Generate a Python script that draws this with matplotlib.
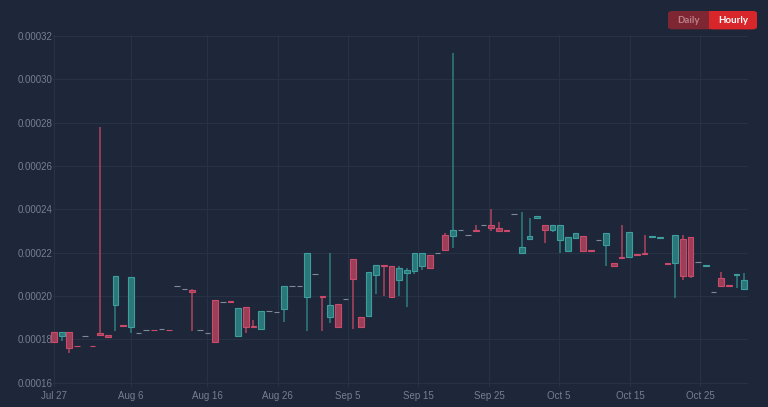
import numpy as np
import matplotlib
matplotlib.use('Agg')
import matplotlib.pyplot as plt
from matplotlib.patches import FancyBboxPatch, Rectangle

# daily candles, prices in units of 1e-5
open_e5 = [18.35, 18.17, 18.34, 17.70, 18.15, 17.70, 18.28, 18.19, 19.58, 18.65,
           18.57, 18.31, 18.42, 18.43, 18.49, 18.43, 20.48, 20.31, 20.29, 18.42,
           18.31, 19.82, 19.74, 19.76, 18.17, 19.48, 18.62, 18.48, 19.29, 19.26,
           19.39, 20.45, 20.45, 19.97, 21.00, 20.01, 19.02, 19.62, 19.88, 21.71,
           19.02, 19.09, 20.98, 21.42, 21.38, 20.72, 21.08, 21.15, 21.37, 21.91,
           21.98, 22.80, 22.75, 23.06, 22.80, 23.03, 23.29, 23.29, 23.15, 23.03,
           23.78, 21.98, 22.62, 23.59, 23.28, 23.05, 22.57, 22.06, 22.66, 22.77,
           22.14, 22.58, 22.37, 21.52, 21.81, 21.79, 21.94, 21.97, 22.72, 22.70,
           21.53, 21.51, 22.62, 22.72, 21.58, 21.38, 20.18, 20.82, 20.51, 20.98,
           20.32]
high_e5 = [18.35, 18.34, 18.34, 17.70, 18.15, 17.70, 27.80, 18.19, 20.92, 18.65,
           20.89, 18.31, 18.42, 18.43, 18.49, 18.43, 20.48, 20.31, 20.31, 18.42,
           18.31, 19.82, 19.74, 19.76, 19.45, 19.48, 18.89, 19.31, 19.29, 19.26,
           20.45, 20.45, 20.45, 21.98, 21.00, 20.01, 21.98, 19.62, 19.88, 21.71,
           19.02, 21.11, 21.42, 21.42, 21.38, 21.38, 21.28, 21.98, 21.98, 21.91,
           21.98, 22.89, 31.22, 23.06, 22.80, 23.28, 23.29, 24.00, 23.40, 23.03,
           23.78, 23.89, 23.60, 23.68, 23.28, 23.28, 23.26, 22.71, 22.91, 22.77,
           22.14, 22.58, 22.91, 21.52, 23.28, 22.97, 21.94, 22.82, 22.76, 22.74,
           21.53, 22.80, 22.80, 22.72, 21.58, 21.42, 20.18, 21.09, 20.51, 21.02,
           21.08]
low_e5 = [17.90, 17.92, 17.38, 17.68, 18.15, 17.69, 18.15, 18.10, 18.40, 18.61,
          18.31, 18.31, 18.42, 18.41, 18.49, 18.41, 20.48, 20.31, 18.40, 18.42,
          18.31, 17.88, 19.74, 19.72, 18.17, 18.31, 18.58, 18.48, 19.29, 19.26,
          18.79, 20.45, 20.45, 18.40, 21.00, 18.40, 18.74, 18.58, 19.88, 18.46,
          18.58, 19.09, 20.08, 20.00, 19.97, 20.00, 19.51, 21.00, 21.19, 21.28,
          21.98, 22.11, 22.20, 23.06, 22.80, 22.99, 23.29, 23.01, 22.99, 22.99,
          23.78, 21.98, 22.62, 23.59, 22.46, 22.94, 22.00, 22.06, 22.66, 22.08,
          22.10, 22.58, 21.40, 21.38, 21.77, 21.79, 21.90, 21.93, 22.72, 22.70,
          21.49, 19.89, 20.74, 20.82, 21.58, 21.38, 20.18, 20.48, 20.47, 20.35,
          20.32]
close_e5 = [17.90, 18.34, 17.62, 17.68, 18.15, 17.69, 18.19, 18.10, 20.92, 18.61,
            20.89, 18.31, 18.42, 18.41, 18.49, 18.41, 20.48, 20.31, 20.20, 18.42,
            18.31, 17.88, 19.74, 19.72, 19.45, 18.58, 18.58, 19.31, 19.29, 19.26,
            20.45, 20.45, 20.45, 21.98, 21.00, 19.97, 19.58, 18.58, 19.88, 20.78,
            18.58, 21.11, 21.42, 21.38, 19.97, 21.31, 21.20, 21.98, 21.98, 21.28,
            21.98, 22.11, 23.05, 23.06, 22.80, 22.99, 23.29, 23.12, 22.99, 22.99,
            23.78, 22.25, 22.77, 23.68, 23.03, 23.28, 23.26, 22.71, 22.91, 22.08,
            22.10, 22.58, 22.91, 21.38, 21.77, 22.97, 21.90, 21.93, 22.76, 22.74,
            21.49, 22.80, 20.91, 20.94, 21.58, 21.42, 20.18, 20.48, 20.47, 21.02,
            20.74]

tick_labels = ['Jul 27', 'Aug 6', 'Aug 16', 'Aug 26', 'Sep 5',
               'Sep 15', 'Sep 25', 'Oct 5', 'Oct 15', 'Oct 25']
tick_pos = [0, 10, 19.95, 29.17, 38.29, 47.46, 56.71, 65.84, 75.1, 84.22]

o = np.array(open_e5) * 1e-5
h = np.array(high_e5) * 1e-5
l = np.array(low_e5) * 1e-5
c = np.array(close_e5) * 1e-5
x = np.arange(len(o))

bg = '#1e2739'
up_fill, up_edge, up_wick = '#2b7679', '#3c9f9d', '#2d7f81'
dn_fill, dn_edge, dn_wick = '#9c3e58', '#cc4a69', '#b0435e'
flat = '#7f8a98'

fill, edge, wick = [], [], []
for oi, ci in zip(o, c):
    if ci > oi:
        fill.append(up_fill); edge.append(up_edge); wick.append(up_wick)
    elif ci < oi:
        fill.append(dn_fill); edge.append(dn_edge); wick.append(dn_wick)
    else:
        fill.append(flat); edge.append(flat); wick.append(flat)

plt.rcParams['font.family'] = ['Liberation Sans', 'DejaVu Sans']
fig = plt.figure(figsize=(7.68, 4.07), dpi=100, facecolor=bg)
ax = fig.add_axes([53/768, 20/407, 695/768, 352/407])
ax.set_facecolor(bg)

ax.vlines(x, l, h, colors=wick, linewidth=1.1, zorder=2)
ax.bar(x, np.abs(c - o), bottom=np.minimum(o, c), width=0.74,
       color=fill, edgecolor=edge, linewidth=0.8, zorder=3, clip_on=False)

ax.set_xlim(-0.13, 90.48)
ax.set_ylim(15.8e-5, 32.05e-5)
ax.set_yticks(np.arange(16, 33, 2) * 1e-5)
ax.yaxis.set_major_formatter(matplotlib.ticker.FuncFormatter(lambda v, p: '%.5f' % v))
ax.set_xticks(tick_pos)
ax.set_xticklabels(tick_labels)
ax.tick_params(length=0, labelsize=7, colors='#747f90')
ax.tick_params(axis='y', pad=0.5)
ax.tick_params(axis='x', pad=3)
ax.grid(True, color='#283245', linewidth=0.8)
ax.set_axisbelow(True)
for s in ax.spines.values():
    s.set_visible(False)

# Daily / Hourly toggle
W, H = 768, 407
bx0, bx1, bmid, by0, by1 = 668, 757, 709, 11, 29.3
fig.patches.append(FancyBboxPatch((bx0/W, 1 - by1/H), (bx1 - bx0)/W, (by1 - by0)/H,
                                  boxstyle='round,pad=0,rounding_size=0.006',
                                  transform=fig.transFigure, facecolor='#7e2631',
                                  edgecolor='none'))
fig.patches.append(FancyBboxPatch((bmid/W, 1 - by1/H), (bx1 - bmid)/W, (by1 - by0)/H,
                                  boxstyle='round,pad=0,rounding_size=0.006',
                                  transform=fig.transFigure, facecolor='#d9262b',
                                  edgecolor='none'))
fig.patches.append(Rectangle((bmid/W, 1 - by1/H), 6/W, (by1 - by0)/H,
                             transform=fig.transFigure, facecolor='#d9262b',
                             edgecolor='none'))
fig.text(688.5/W, 1 - 20.2/H, 'Daily', ha='center', va='center', fontsize=7,
         fontweight='bold', color='#b98189', family=['Lato', 'DejaVu Sans'])
fig.text(733/W, 1 - 20.2/H, 'Hourly', ha='center', va='center', fontsize=7,
         fontweight='bold', color='white', family=['Lato', 'DejaVu Sans'])

fig.savefig('out.png', dpi=100, facecolor=bg)
